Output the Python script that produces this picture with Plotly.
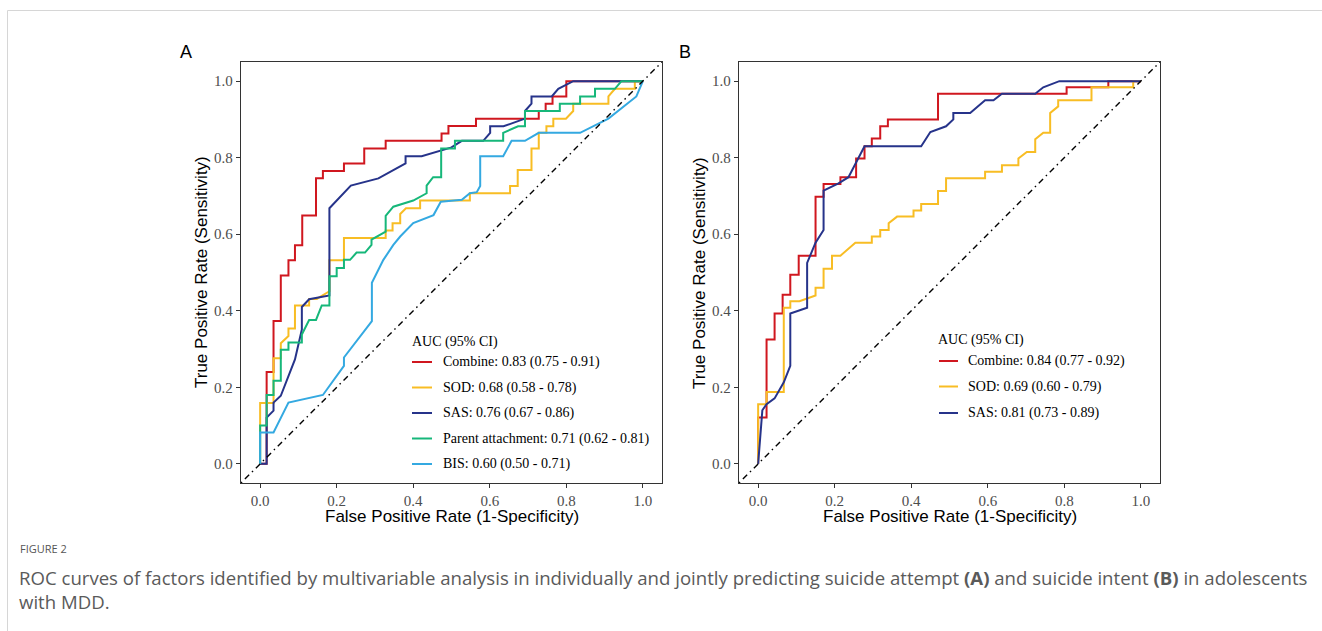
import plotly.graph_objects as go

W, H = 1322, 631

# ---------------- data ----------------
tick_vals = [0.0, 0.2, 0.4, 0.6, 0.8, 1.0]
tick_text = ["0.0", "0.2", "0.4", "0.6", "0.8", "1.0"]

a_labels = ["Combine: 0.83 (0.75 - 0.91)", "SOD: 0.68 (0.58 - 0.78)", "SAS: 0.76 (0.67 - 0.86)",
            "Parent attachment: 0.71 (0.62 - 0.81)", "BIS: 0.60 (0.50 - 0.71)"]
b_labels = ["Combine: 0.84 (0.77 - 0.92)", "SOD: 0.69 (0.60 - 0.79)", "SAS: 0.81 (0.73 - 0.89)"]

a_combine_x = [0, 0.017, 0.017, 0.035, 0.035, 0.054, 0.054, 0.074, 0.074, 0.091, 0.091, 0.11, 0.11, 0.146, 0.146,
               0.164, 0.164, 0.219, 0.219, 0.272, 0.272, 0.328, 0.328, 0.474, 0.474, 0.492, 0.492, 0.564, 0.564,
               0.728, 0.728, 0.746, 0.746, 0.764, 0.764, 0.80, 0.80, 1.0]
a_combine_y = [0, 0, 0.24, 0.24, 0.373, 0.373, 0.492, 0.492, 0.532, 0.532, 0.571, 0.571, 0.649, 0.649, 0.746,
               0.746, 0.765, 0.765, 0.785, 0.785, 0.824, 0.824, 0.844, 0.844, 0.863, 0.863, 0.883, 0.883, 0.902,
               0.902, 0.922, 0.922, 0.941, 0.941, 0.96, 0.96, 1.0, 1.0]

a_sod_x = [0, 0, 0.035, 0.035, 0.054, 0.054, 0.074, 0.074, 0.091, 0.091, 0.128, 0.128, 0.148, 0.181, 0.181,
           0.219, 0.219, 0.328, 0.328, 0.346, 0.346, 0.366, 0.366, 0.381, 0.418, 0.418, 0.548, 0.548, 0.653,
           0.653, 0.673, 0.673, 0.709, 0.709, 0.728, 0.728, 0.748, 0.748, 0.766, 0.766, 0.799, 0.818, 0.818,
           0.91, 0.91, 0.927, 0.979, 0.979, 1.0]
a_sod_y = [0, 0.159, 0.159, 0.276, 0.276, 0.315, 0.334, 0.354, 0.354, 0.414, 0.414, 0.431, 0.431, 0.451, 0.532,
           0.532, 0.59, 0.59, 0.61, 0.61, 0.629, 0.629, 0.653, 0.668, 0.668, 0.688, 0.688, 0.707, 0.707,
           0.726, 0.726, 0.768, 0.768, 0.824, 0.824, 0.865, 0.865, 0.882, 0.882, 0.902, 0.902, 0.922, 0.941,
           0.941, 0.96, 0.98, 0.98, 1.0, 1.0]

a_sas_x = [0, 0.017, 0.017, 0.035, 0.035, 0.054, 0.091, 0.109, 0.109, 0.128, 0.181, 0.181, 0.237, 0.309, 0.38,
           0.38, 0.422, 0.50, 0.527, 0.583, 0.601, 0.601, 0.636, 0.692, 0.692, 0.709, 0.709, 0.762, 0.779,
           0.818, 1.0]
a_sas_y = [0, 0, 0.121, 0.139, 0.16, 0.178, 0.273, 0.351, 0.41, 0.43, 0.44, 0.668, 0.727, 0.746, 0.785,
           0.804, 0.804, 0.827, 0.844, 0.844, 0.865, 0.882, 0.882, 0.902, 0.922, 0.941, 0.96, 0.96, 0.98,
           1.0, 1.0]

a_parent_x = [0, 0, 0.017, 0.017, 0.035, 0.035, 0.054, 0.054, 0.074, 0.074, 0.109, 0.109, 0.128, 0.146, 0.161,
              0.181, 0.181, 0.2, 0.2, 0.219, 0.219, 0.235, 0.252, 0.274, 0.291, 0.291, 0.328, 0.328, 0.348,
              0.40, 0.435, 0.435, 0.452, 0.473, 0.473, 0.509, 0.509, 0.635, 0.635, 0.674, 0.692, 0.692, 0.783,
              0.783, 0.836, 0.836, 0.875, 0.875, 0.927, 0.944, 1.0]
a_parent_y = [0, 0.1, 0.1, 0.18, 0.18, 0.217, 0.217, 0.298, 0.298, 0.317, 0.317, 0.338, 0.376, 0.376, 0.414,
              0.414, 0.49, 0.49, 0.512, 0.512, 0.533, 0.533, 0.552, 0.552, 0.572, 0.586, 0.607, 0.648, 0.672,
              0.688, 0.707, 0.727, 0.749, 0.749, 0.824, 0.824, 0.844, 0.844, 0.865, 0.882, 0.882, 0.922, 0.922,
              0.941, 0.941, 0.96, 0.96, 0.98, 0.98, 1.0, 1.0]

a_bis_x = [0, 0, 0.035, 0.074, 0.164, 0.219, 0.219, 0.292, 0.292, 0.322, 0.348, 0.366, 0.40, 0.453, 0.472,
           0.527, 0.548, 0.566, 0.575, 0.575, 0.635, 0.657, 0.692, 0.728, 0.836, 0.91, 0.983, 1.0]
a_bis_y = [0, 0.082, 0.082, 0.16, 0.18, 0.256, 0.278, 0.373, 0.473, 0.533, 0.572, 0.594, 0.629, 0.65, 0.685,
           0.69, 0.707, 0.71, 0.726, 0.804, 0.804, 0.844, 0.844, 0.865, 0.865, 0.902, 0.96, 1.0]

b_combine_x = [0, 0, 0.022, 0.022, 0.043, 0.043, 0.064, 0.064, 0.084, 0.084, 0.106, 0.106, 0.15, 0.15, 0.171,
               0.171, 0.215, 0.215, 0.256, 0.256, 0.278, 0.278, 0.297, 0.297, 0.319, 0.319, 0.339, 0.339,
               0.47, 0.47, 0.806, 0.806, 0.915, 0.915, 1.0]
b_combine_y = [0, 0.121, 0.121, 0.325, 0.325, 0.393, 0.393, 0.442, 0.442, 0.494, 0.494, 0.544, 0.544, 0.698,
               0.698, 0.731, 0.731, 0.749, 0.749, 0.798, 0.798, 0.83, 0.83, 0.85, 0.85, 0.882, 0.882, 0.9,
               0.9, 0.967, 0.967, 0.984, 0.984, 1.0, 1.0]

b_sod_x = [0, 0, 0.022, 0.022, 0.067, 0.067, 0.084, 0.084, 0.108, 0.15, 0.15, 0.171, 0.171, 0.193, 0.193,
           0.215, 0.254, 0.297, 0.297, 0.319, 0.319, 0.341, 0.341, 0.363, 0.406, 0.406, 0.426, 0.426, 0.47,
           0.47, 0.491, 0.491, 0.593, 0.593, 0.637, 0.637, 0.68, 0.68, 0.702, 0.724, 0.724, 0.745, 0.763,
           0.763, 0.784, 0.784, 0.871, 0.871, 0.98, 0.98, 1.0]
b_sod_y = [0, 0.156, 0.156, 0.188, 0.188, 0.408, 0.408, 0.425, 0.425, 0.44, 0.46, 0.46, 0.51, 0.51, 0.544,
           0.544, 0.578, 0.578, 0.594, 0.594, 0.611, 0.611, 0.629, 0.646, 0.646, 0.662, 0.662, 0.679, 0.679,
           0.713, 0.713, 0.746, 0.746, 0.763, 0.763, 0.78, 0.78, 0.798, 0.815, 0.815, 0.848, 0.865, 0.865,
           0.917, 0.934, 0.95, 0.95, 0.984, 0.984, 1.0, 1.0]

b_sas_x = [0, 0.011, 0.022, 0.043, 0.067, 0.084, 0.084, 0.128, 0.128, 0.15, 0.171, 0.171, 0.21, 0.236, 0.278,
           0.426, 0.45, 0.491, 0.51, 0.51, 0.554, 0.593, 0.615, 0.637, 0.724, 0.745, 0.787, 1.0]
b_sas_y = [0, 0.14, 0.156, 0.171, 0.213, 0.256, 0.393, 0.408, 0.525, 0.578, 0.611, 0.714, 0.733, 0.749, 0.83,
           0.83, 0.867, 0.882, 0.9, 0.917, 0.917, 0.95, 0.95, 0.967, 0.967, 0.984, 1.0, 1.0]

diag = [-0.05, 1.05]

# ---------------- styles ----------------
RED, YEL, NAVY, GRN, BLU = "#D0171F", "#F8BD24", "#26338A", "#16B77A", "#34A9E1"
SERIF = "Liberation Serif, Times New Roman, serif"
SANS = "Liberation Sans, Arial, sans-serif"

def px(x):
    return x / W

def py(y):
    return 1 - y / H

fig = go.Figure()

a_series = [(a_combine_x, a_combine_y, RED), (a_sod_x, a_sod_y, YEL), (a_sas_x, a_sas_y, NAVY),
            (a_parent_x, a_parent_y, GRN), (a_bis_x, a_bis_y, BLU)]
b_series = [(b_combine_x, b_combine_y, RED), (b_sod_x, b_sod_y, YEL), (b_sas_x, b_sas_y, NAVY)]

for (sx, sy, col), lab in zip(a_series, a_labels):
    fig.add_trace(go.Scatter(x=sx, y=sy, mode="lines", line=dict(color=col, width=2),
                             name=lab, showlegend=False, xaxis="x", yaxis="y"))
fig.add_trace(go.Scatter(x=diag, y=diag, mode="lines", showlegend=False, xaxis="x", yaxis="y",
                         line=dict(color="black", width=1.4, dash="1.5px,4px,6px,4px")))

for (sx, sy, col), lab in zip(b_series, b_labels):
    fig.add_trace(go.Scatter(x=sx, y=sy, mode="lines", line=dict(color=col, width=2),
                             name=lab, showlegend=False, xaxis="x2", yaxis="y2"))
fig.add_trace(go.Scatter(x=diag, y=diag, mode="lines", showlegend=False, xaxis="x2", yaxis="y2",
                         line=dict(color="black", width=1.4, dash="1.5px,4px,6px,4px")))

axis_common = dict(range=[-0.05, 1.05], tickvals=tick_vals, ticktext=tick_text, showgrid=False,
                   zeroline=False, showline=True, mirror=True, linecolor="#333333", linewidth=1.3,
                   ticks="outside", ticklen=4, tickwidth=1.1, tickcolor="#333333",
                   tickfont=dict(family=SERIF, size=15, color="#4D4D4D"))

top, bot = 62, 483
fig.update_layout(
    width=W, height=H, margin=dict(l=0, r=0, t=0, b=0),
    paper_bgcolor="white", plot_bgcolor="white", showlegend=False,
    xaxis=dict(domain=[px(241), px(662)], anchor="y", **axis_common),
    yaxis=dict(domain=[py(bot), py(top)], anchor="x", **axis_common),
    xaxis2=dict(domain=[px(739), px(1160)], anchor="y2", **axis_common),
    yaxis2=dict(domain=[py(bot), py(top)], anchor="x2", **axis_common),
)

ann = []
shapes = []

# card border
shapes.append(dict(type="rect", xref="paper", yref="paper", x0=px(7.5), x1=px(1340), y0=py(650), y1=py(10.5),
                   line=dict(color="#D6D6D6", width=1), fillcolor="rgba(0,0,0,0)", layer="below"))

# axis titles & panel labels
for cx, lab_x, letter in [(451.5, 186, "A"), (949.5, 685, "B")]:
    ann.append(dict(x=px(cx), y=py(516), xref="paper", yref="paper", text="False Positive Rate (1-Specificity)",
                    showarrow=False, xanchor="center", yanchor="middle", font=dict(family=SANS, size=17, color="black")))
    ann.append(dict(x=px(lab_x), y=py(52), xref="paper", yref="paper", text=letter, showarrow=False,
                    xanchor="center", yanchor="middle", font=dict(family=SANS, size=18, color="black")))
for cx in [201.5, 699.5]:
    ann.append(dict(x=px(cx), y=py(272.5), xref="paper", yref="paper", text="True Positive Rate (Sensitivity)",
                    showarrow=False, textangle=-90, xanchor="center", yanchor="middle",
                    font=dict(family=SANS, size=17, color="black")))

# legends
def legend(title_x, title_y, line_x0, line_x1, text_x, rows_y, labels, colors):
    ann.append(dict(x=px(title_x), y=py(title_y), xref="paper", yref="paper", text="AUC (95% CI)",
                    showarrow=False, xanchor="left", yanchor="middle", font=dict(family=SERIF, size=14, color="black")))
    for ry, lab, col in zip(rows_y, labels, colors):
        shapes.append(dict(type="line", xref="paper", yref="paper", x0=px(line_x0), x1=px(line_x1),
                           y0=py(ry), y1=py(ry), line=dict(color=col, width=2)))
        ann.append(dict(x=px(text_x), y=py(ry), xref="paper", yref="paper", text=lab, showarrow=False,
                        xanchor="left", yanchor="middle", font=dict(family=SERIF, size=14, color="black")))

legend(410, 342, 412, 432, 441, [362, 387.5, 413, 438.5, 464], a_labels, [RED, YEL, NAVY, GRN, BLU])
legend(936, 340, 939, 958, 966, [361, 386.5, 413], b_labels, [RED, YEL, NAVY])

# caption
CAP = "Open Sans, Noto Sans, sans-serif"
ann.append(dict(x=px(18), y=py(548), xref="paper", yref="paper", text="FIGURE 2", showarrow=False,
                xanchor="left", yanchor="middle", font=dict(family=CAP, size=11, color="#555555")))
ann.append(dict(x=px(17), y=py(577), xref="paper", yref="paper",
                text="ROC curves of factors identified by multivariable analysis in individually and jointly predicting "
                     "suicide attempt <b>(A)</b> and suicide intent <b>(B)</b> in adolescents",
                showarrow=False, xanchor="left", yanchor="middle", font=dict(family=CAP, size=18.6, color="#5A5A5A")))
ann.append(dict(x=px(17), y=py(601), xref="paper", yref="paper", text="with MDD.", showarrow=False,
                xanchor="left", yanchor="middle", font=dict(family=CAP, size=18.6, color="#5A5A5A")))

fig.update_layout(annotations=ann, shapes=shapes)
fig.write_html("out.html", config={"displayModeBar": False},
               post_script="document.body.style.margin='0px';document.body.style.overflow='hidden';")
